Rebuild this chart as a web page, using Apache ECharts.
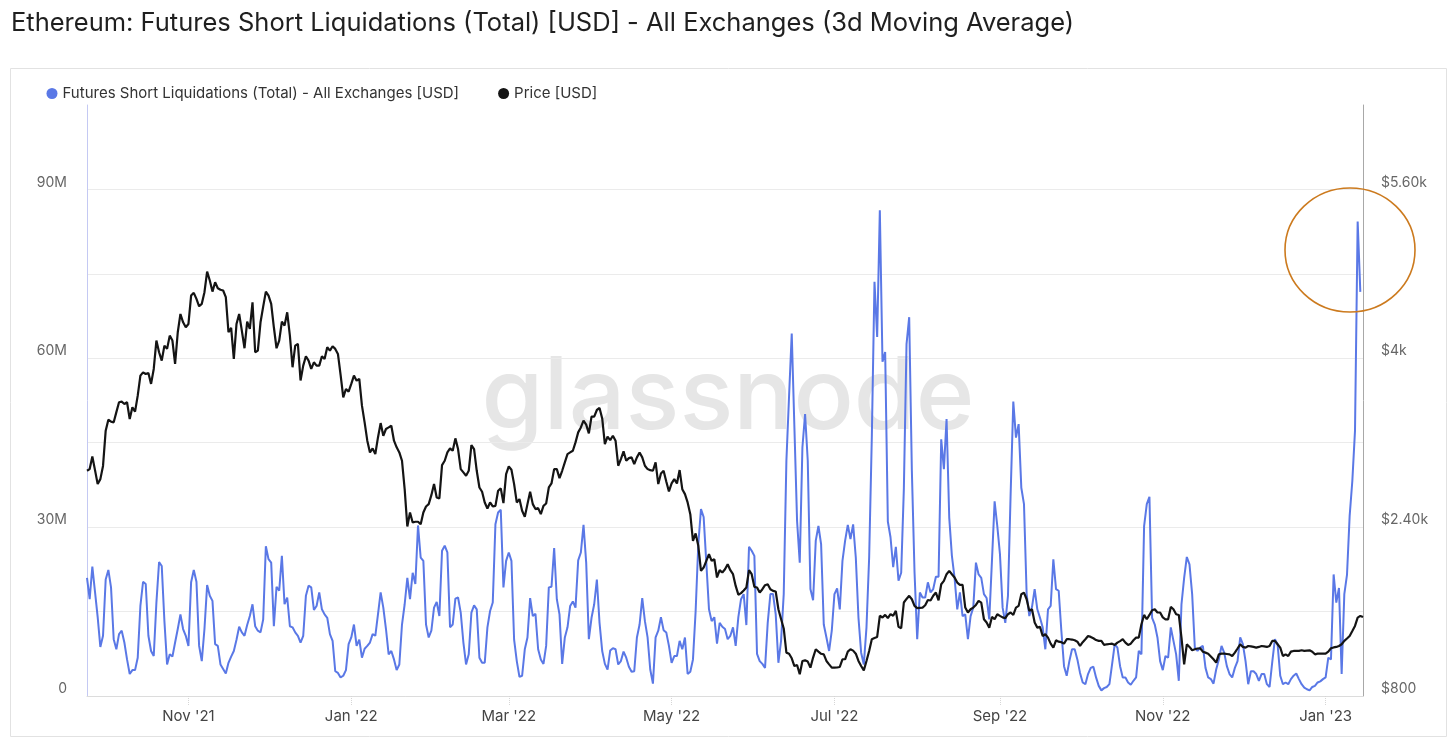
<!doctype html>
<html>
<head>
<meta charset="utf-8">
<title>Ethereum: Futures Short Liquidations</title>
<script src="https://cdn.jsdelivr.net/npm/echarts@6/dist/echarts.min.js"></script>
<style>
    html,body{
        margin: 0;
        width: 100%;
        height: 100%;
        background: #fff;
    }
    #chart{
        width: 1456px;
        height: 747px;
    }
</style>
</head>
<body>
<div id="chart"></div>
<script>
    // first day of both series, one value per day after that
    var startDate = [2021, 9, 24];
    var monthNames = ['Jan','Feb','Mar','Apr','May','Jun','Jul','Aug','Sep','Oct','Nov','Dec'];

    // futures short liquidations, 3d MA, in millions of USD
    var shortLiq = [
        21.0, 17.2, 23.0, 18.5, 14.0, 8.7, 10.7, 20.7, 22.4, 19.3,
        10.1, 8.3, 11.0, 11.6, 9.5, 6.5, 3.9, 4.6, 4.6, 6.8,
        16.0, 20.3, 19.9, 10.7, 8.0, 7.1, 16.6, 23.8, 23.1, 13.3,
        5.6, 7.4, 7.0, 9.5, 11.9, 14.5, 11.9, 10.7, 8.9, 20.2,
        22.4, 20.3, 8.9, 6.2, 11.9, 19.7, 17.8, 16.9, 9.2, 8.9,
        5.6, 4.8, 4.0, 5.9, 7.0, 8.0, 10.0, 12.3, 11.3, 10.7,
        12.6, 14.2, 16.3, 12.4, 11.6, 11.3, 13.6, 26.6, 24.3, 23.7,
        12.4, 19.4, 18.7, 24.9, 16.3, 17.5, 12.4, 12.2, 11.3, 10.7,
        9.5, 10.7, 17.8, 19.6, 19.3, 15.3, 16.0, 18.4, 15.4, 14.5,
        13.9, 11.0, 9.8, 4.4, 4.1, 3.3, 3.6, 4.6, 9.2, 10.4,
        12.7, 8.9, 10.0, 6.8, 8.4, 8.9, 9.5, 11.0, 10.7, 14.5,
        18.4, 15.7, 11.9, 7.4, 8.0, 6.5, 4.6, 5.6, 12.7, 16.3,
        21.0, 17.2, 21.9, 19.9, 30.3, 24.6, 24.0, 12.7, 10.4, 11.6,
        15.7, 16.7, 14.2, 25.8, 26.7, 25.5, 12.2, 12.7, 17.3, 17.5,
        14.8, 9.5, 5.6, 7.4, 14.8, 16.1, 15.4, 6.8, 5.9, 5.9,
        12.2, 15.1, 16.6, 30.5, 32.6, 33.1, 19.3, 24.0, 25.5, 24.0,
        10.0, 6.2, 3.4, 3.6, 8.3, 10.4, 17.4, 14.2, 14.6, 8.3,
        6.5, 5.7, 8.9, 19.3, 19.4, 26.3, 17.2, 14.5, 5.7, 10.4,
        12.2, 16.0, 16.8, 15.7, 24.1, 25.5, 30.4, 23.7, 10.1, 13.9,
        16.3, 20.7, 13.0, 8.0, 5.7, 4.7, 8.1, 8.5, 8.3, 5.6,
        6.2, 7.9, 6.8, 5.2, 4.3, 4.4, 10.4, 12.7, 17.4, 13.3,
        10.4, 4.7, 2.2, 10.4, 11.6, 14.0, 11.7, 11.3, 8.9, 5.9,
        7.1, 7.1, 9.8, 8.3, 10.4, 3.9, 4.3, 6.5, 15.1, 27.0,
        33.2, 31.8, 23.7, 15.4, 13.3, 14.0, 9.3, 13.0, 12.3, 11.9,
        10.1, 10.7, 12.2, 8.9, 14.0, 17.2, 18.1, 12.6, 26.5, 25.8,
        24.9, 7.5, 6.2, 5.7, 5.0, 13.0, 18.1, 18.1, 14.5, 5.9,
        9.8, 18.1, 41.8, 53.3, 64.4, 47.7, 31.1, 23.7, 44.2, 50.1,
        41.8, 19.0, 17.0, 27.6, 30.2, 27.0, 12.7, 10.4, 8.0, 11.6,
        18.1, 19.1, 15.4, 24.0, 27.6, 30.4, 27.9, 30.5, 24.6, 13.9,
        7.7, 5.6, 12.2, 24.6, 46.0, 73.6, 63.8, 86.3, 59.4, 61.1,
        31.0, 28.2, 22.9, 26.5, 20.5, 21.9, 36.8, 62.5, 67.3, 40.0,
        22.0, 10.1, 18.4, 17.5, 17.5, 20.2, 18.4, 19.0, 21.2, 21.2,
        45.6, 40.3, 49.2, 31.7, 24.9, 21.0, 15.4, 18.4, 14.2, 14.5,
        10.1, 14.2, 15.7, 23.7, 21.6, 21.0, 18.1, 17.4, 13.6, 24.0,
        34.6, 30.2, 25.2, 15.7, 13.0, 17.8, 35.9, 52.3, 45.9, 48.3,
        37.0, 34.1, 18.1, 14.2, 15.8, 19.0, 15.4, 13.9, 12.2, 8.3,
        15.4, 16.0, 24.3, 19.0, 18.7, 11.6, 5.3, 3.6, 6.2, 8.3,
        8.3, 6.5, 4.1, 2.4, 2.1, 3.9, 5.0, 5.2, 3.3, 1.8,
        1.0, 1.4, 1.6, 2.1, 5.6, 9.2, 8.6, 5.3, 3.3, 3.3,
        2.4, 2.0, 2.7, 3.3, 8.0, 7.4, 30.2, 34.1, 35.4, 13.9,
        12.7, 10.4, 6.2, 4.6, 7.1, 6.8, 12.2, 9.8, 7.4, 2.7,
        16.3, 21.0, 24.7, 23.4, 18.1, 8.6, 8.0, 8.6, 8.9, 5.0,
        3.3, 3.0, 2.2, 4.7, 6.5, 8.9, 7.7, 5.3, 3.9, 3.3,
        5.0, 6.2, 10.4, 9.2, 6.2, 2.1, 4.4, 4.4, 3.9, 2.7,
        3.9, 3.9, 2.1, 1.6, 6.0, 10.1, 9.2, 3.6, 2.1, 2.4,
        2.1, 3.0, 3.6, 4.0, 3.0, 2.1, 1.5, 1.2, 1.0, 1.6,
        1.8, 2.4, 2.6, 3.0, 3.3, 6.8, 6.5, 21.6, 16.6, 19.2,
        3.9, 18.1, 21.5, 32.0, 38.2, 47.1, 84.3, 71.8
    ];

    // ETH price in USD
    var price = [
        2934, 2950, 3070, 2940, 2808, 2855, 2980, 3314, 3418, 3400,
        3393, 3490, 3583, 3589, 3567, 3583, 3424, 3535, 3494, 3646,
        3836, 3867, 3851, 3861, 3757, 3899, 4168, 4057, 3978, 4120,
        4089, 4215, 4168, 3946, 4247, 4420, 4341, 4294, 4325, 4594,
        4620, 4563, 4493, 4516, 4626, 4822, 4737, 4632, 4721, 4664,
        4650, 4642, 4579, 4247, 4288, 3994, 4325, 4420, 4262, 4095,
        4348, 4278, 4531, 4057, 4073, 4341, 4490, 4632, 4594, 4516,
        4294, 4095, 4168, 4348, 4310, 4436, 4215, 3915, 4120, 4136,
        3790, 3930, 4019, 3978, 3899, 3962, 3930, 3930, 4019, 3994,
        4104, 4073, 4114, 4089, 4041, 3842, 3630, 3709, 3684, 3757,
        3836, 3788, 3804, 3551, 3393, 3219, 3108, 3146, 3092, 3250,
        3386, 3266, 3330, 3345, 3361, 3219, 3156, 3108, 3029, 2760,
        2406, 2539, 2444, 2451, 2451, 2428, 2539, 2596, 2618, 2703,
        2808, 2681, 2672, 2988, 3029, 3108, 3146, 3124, 3241, 3140,
        2950, 2919, 2887, 2934, 3178, 3140, 2934, 2776, 2735, 2634,
        2577, 2634, 2596, 2602, 2745, 2767, 2628, 2903, 2975, 2944,
        2808, 2634, 2666, 2555, 2498, 2618, 2735, 2618, 2571, 2580,
        2523, 2602, 2624, 2776, 2814, 2950, 2950, 2865, 2934, 3013,
        3092, 3108, 3124, 3203, 3298, 3345, 3409, 3371, 3288, 3447,
        3447, 3510, 3529, 3430, 3187, 3257, 3225, 3266, 3219, 2982,
        3045, 3118, 3029, 3054, 3061, 2998, 3061, 3108, 3061, 2982,
        2950, 2940, 2934, 3013, 2808, 2909, 2934, 2833, 2738, 2814,
        2855, 2814, 2941, 2760, 2713, 2634, 2523, 2270, 2340, 2223,
        1986, 2017, 2081, 2144, 2081, 2096, 1923, 1992, 1970, 2001,
        2049, 1992, 1954, 1843, 1760, 1775, 1800, 1828, 1992, 1954,
        1834, 1828, 1780, 1812, 1850, 1859, 1812, 1796, 1790, 1622,
        1530, 1440, 1211, 1201, 1157, 1084, 1094, 1006, 1132, 1138,
        1126, 1069, 1164, 1243, 1221, 1200, 1195, 1132, 1100, 1069,
        1069, 1070, 1075, 1148, 1148, 1221, 1243, 1230, 1201, 1132,
        1084, 1043, 1132, 1227, 1338, 1350, 1360, 1560, 1544, 1569,
        1538, 1576, 1560, 1607, 1455, 1442, 1686, 1720, 1749, 1717,
        1654, 1632, 1635, 1638, 1660, 1710, 1705, 1750, 1780, 1707,
        1859, 1891, 1954, 1986, 1954, 1923, 1875, 1853, 1853, 1638,
        1591, 1622, 1638, 1663, 1701, 1685, 1527, 1496, 1448, 1549,
        1527, 1575, 1559, 1545, 1537, 1575, 1591, 1568, 1638, 1654,
        1764, 1780, 1717, 1606, 1622, 1496, 1448, 1455, 1369, 1385,
        1353, 1296, 1258, 1328, 1315, 1310, 1296, 1338, 1338, 1335,
        1328, 1315, 1274, 1310, 1338, 1369, 1360, 1347, 1330, 1322,
        1322, 1284, 1290, 1293, 1296, 1284, 1306, 1320, 1338, 1306,
        1284, 1296, 1328, 1353, 1353, 1480, 1568, 1527, 1568, 1613,
        1622, 1591, 1591, 1545, 1527, 1527, 1644, 1622, 1575, 1568,
        1353, 1100, 1290, 1265, 1233, 1243, 1250, 1252, 1220, 1211,
        1201, 1175, 1148, 1116, 1195, 1201, 1201, 1198, 1195, 1179,
        1211, 1250, 1290, 1265, 1258, 1274, 1270, 1265, 1258, 1265,
        1274, 1270, 1265, 1274, 1322, 1322, 1290, 1258, 1179, 1195,
        1179, 1220, 1227, 1227, 1227, 1233, 1227, 1230, 1233, 1220,
        1195, 1201, 1201, 1201, 1201, 1220, 1252, 1260, 1265, 1274,
        1290, 1322, 1345, 1369, 1416, 1464, 1543, 1559, 1549
    ];

    // one category per day
    var days = [];
    var t0 = Date.UTC(startDate[0], startDate[1] - 1, startDate[2]);
    for (var i = 0; i < price.length; i++) {
        days.push(new Date(t0 + i * 86400000).toISOString().slice(0, 10));
    }

    function isTickDay(index, value) {
        return value.slice(8) === '01' && (+value.slice(5, 7)) % 2 === 1;
    }

    var font = 'Inter';
    var grid_color = '#ebebeb';

    var chart = echarts.init(document.getElementById('chart'));
    var option = {
        backgroundColor: '#fff',
        animation: false,
        title: {
            text: 'Ethereum: Futures Short Liquidations (Total) [USD] - All Exchanges (3d Moving Average)',
            left: 6,
            top: 5,
            textStyle: {
                fontFamily: font,
                fontSize: 25.5,
                fontWeight: 'normal',
                color: '#1f1f1f'
            }
        },
        legend: {
            left: 41.5,
            top: 81,
            icon: 'circle',
            itemWidth: 11,
            itemHeight: 11,
            itemGap: 39,
            textStyle: {
                fontFamily: font,
                fontSize: 15,
                color: '#333'
            },
            data: ['Futures Short Liquidations (Total) - All Exchanges [USD]', 'Price [USD]']
        },
        grid: {
            left: 87,
            right: 93,
            top: 105,
            bottom: 51
        },
        xAxis: {
            type: 'category',
            boundaryGap: false,
            data: days,
            axisLine: {
                lineStyle: { color: '#dcdcdc' }
            },
            axisTick: {
                show: true,
                interval: isTickDay,
                length: 9,
                lineStyle: { color: '#d6d6d6', type: 'dotted' }
            },
            axisLabel: {
                interval: isTickDay,
                margin: 13,
                fontFamily: font,
                fontSize: 15,
                color: '#444',
                formatter: function (v) {
                    return monthNames[+v.slice(5, 7) - 1] + " '" + v.slice(2, 4);
                }
            },
            splitLine: { show: false }
        },
        yAxis: [{
            type: 'value',
            position: 'left',
            min: 0,
            max: 105,
            interval: 15,
            axisLine: {
                show: true,
                lineStyle: { color: '#c4c9f3' }
            },
            axisTick: { show: false },
            axisLabel: {
                margin: 20,
                fontFamily: font,
                fontSize: 14,
                color: '#666',
                verticalAlign: 'bottom',
                formatter: function (v) {
                    if (v % 30 !== 0 || v > 90) return '';
                    return v === 0 ? '0' : v + 'M';
                }
            },
            splitLine: {
                lineStyle: {
                    color: [grid_color, grid_color, grid_color, grid_color, grid_color, grid_color, grid_color, 'rgba(0,0,0,0)']
                }
            }
        }, {
            type: 'value',
            position: 'right',
            min: 800,
            max: 6400,
            interval: 800,
            axisLine: {
                show: true,
                lineStyle: { color: '#a8a8a8' }
            },
            axisTick: { show: false },
            axisLabel: {
                margin: 18,
                fontFamily: font,
                fontSize: 14,
                color: '#666',
                verticalAlign: 'bottom',
                formatter: function (v) {
                    if ((v - 800) % 1600 !== 0 || v > 5600) return '';
                    if (v < 1000) return '$' + v;
                    var k = v / 1000;
                    return '$' + (k % 1 === 0 ? k : k.toFixed(2)) + 'k';
                }
            },
            splitLine: { show: false }
        }],
        series: [{
            name: 'Futures Short Liquidations (Total) - All Exchanges [USD]',
            type: 'line',
            yAxisIndex: 0,
            showSymbol: false,
            symbol: 'circle',
            color: '#5a78e6',
            lineStyle: { width: 2 },
            data: shortLiq
        }, {
            name: 'Price [USD]',
            type: 'line',
            yAxisIndex: 1,
            showSymbol: false,
            symbol: 'circle',
            color: '#141414',
            lineStyle: { width: 2.2 },
            data: price
        }],
        graphic: [{
            type: 'rect',
            z: -20,
            shape: { x: 10.5, y: 68.5, width: 1436, height: 668 },
            style: { fill: 'none', stroke: '#e2e2e2', lineWidth: 1 }
        }, {
            type: 'text',
            z: -10,
            x: 728,
            y: 399,
            style: {
                text: 'glassnode',
                align: 'center',
                verticalAlign: 'middle',
                font: '500 100px Inter',
                fill: '#e6e6e6'
            }
        }, {
            type: 'ellipse',
            z: 100,
            shape: { cx: 1350, cy: 250, rx: 65, ry: 62 },
            style: { fill: 'none', stroke: '#cc7a1e', lineWidth: 1.6 }
        }]
    };
    chart.setOption(option);
</script>
</body>
</html>
